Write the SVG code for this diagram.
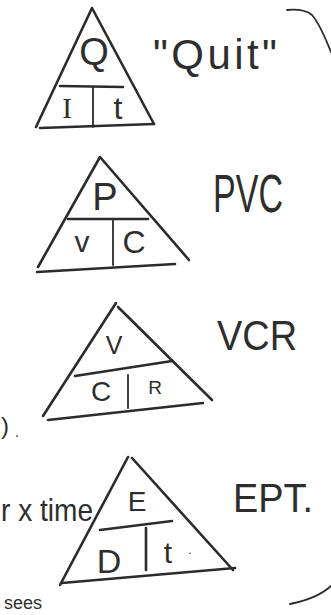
<svg xmlns="http://www.w3.org/2000/svg" width="331" height="615" viewBox="0 0 331 615">
<style>
.ln{fill:none;stroke:#2b2b2b;stroke-width:2.6;stroke-linecap:round;stroke-linejoin:round}
.thin{fill:none;stroke:#2b2b2b;stroke-width:1.8;stroke-linecap:round}
.t{font-family:"Liberation Sans",Arial,sans-serif;fill:#2e2e2e;text-anchor:middle}
.s{font-family:"Liberation Serif","Times New Roman",serif;fill:#2e2e2e;text-anchor:middle}
.lab{font-family:"Liberation Sans",Arial,sans-serif;fill:#2e2e2e}
</style>
<rect width="331" height="615" fill="#ffffff"/>
<g id="tri-qit">
<path class="ln" d="M36,127 L92,8 L154,124"/>
<path class="ln" d="M40,128 L154,124"/>
<path class="ln" d="M60,86 L123,87"/>
<path class="thin" d="M93,87 L93,127"/>
<text class="t" x="94" y="65" font-size="38">Q</text>
<text class="s" x="67" y="118" font-size="29">I</text>
<text class="t" x="118" y="119" font-size="32">t</text>
<text class="lab" x="153" y="69" font-size="42" textLength="124" lengthAdjust="spacing">"Quit"</text>
</g>
<g id="tri-pvc">
<path class="ln" d="M38,267 L100,157 L189,260"/>
<path class="ln" d="M37,272 L175,264"/>
<path class="ln" d="M68,219 L148,219"/>
<path class="thin" d="M113,220 L113,265"/>
<text class="t" x="105" y="210" font-size="38">P</text>
<text class="t" x="82" y="252" font-size="30">v</text>
<text class="t" x="134" y="253" font-size="32">C</text>
<text class="lab" x="213" y="212" font-size="54" textLength="70" lengthAdjust="spacingAndGlyphs">PVC</text>
</g>
<g id="tri-vcr">
<path class="ln" d="M43,416 L116,303"/>
<path class="ln" d="M118,307 L212,400"/>
<path class="ln" d="M75,376 L172,361"/>
<path class="ln" d="M48,420 L203,403"/>
<path class="thin" d="M128,375 L128,408"/>
<text class="t" x="114" y="354" font-size="25">V</text>
<text class="t" x="101" y="401" font-size="28">C</text>
<text class="t" x="155" y="394" font-size="19">R</text>
<text class="lab" x="217" y="350" font-size="42" textLength="80" lengthAdjust="spacingAndGlyphs">VCR</text>
</g>
<g id="tri-ept">
<path class="ln" d="M60,585 L128,457"/>
<path class="ln" d="M132,458 L233,570"/>
<path class="ln" d="M62,583 L235,568"/>
<path class="ln" d="M100,530 L172,521"/>
<path class="ln" d="M146,528 L146,570"/>
<text class="t" x="137" y="511" font-size="28">E</text>
<text class="t" x="109" y="573" font-size="34">D</text>
<text class="t" x="168" y="563" font-size="30">t</text>
<text class="t" x="190" y="554" font-size="12">.</text>
<text class="lab" x="233" y="512" font-size="40" textLength="80" lengthAdjust="spacingAndGlyphs">EPT.</text>
</g>
<g id="notes">
<text class="lab" x="1" y="521" font-size="32" textLength="92" lengthAdjust="spacingAndGlyphs">r x time</text>
<text class="lab" x="1" y="434" font-size="24">)</text>
<text class="lab" x="15" y="437" font-size="14">.</text>
<text class="lab" x="4" y="609" font-size="18">sees</text>
</g>
<g id="connectors">
<path class="thin" d="M287,10 C298,9 306,10 312,15 C320,24 326,40 331,52"/>
<path class="thin" d="M331,586 C320,596 305,601 290,604"/>
</g>
</svg>
